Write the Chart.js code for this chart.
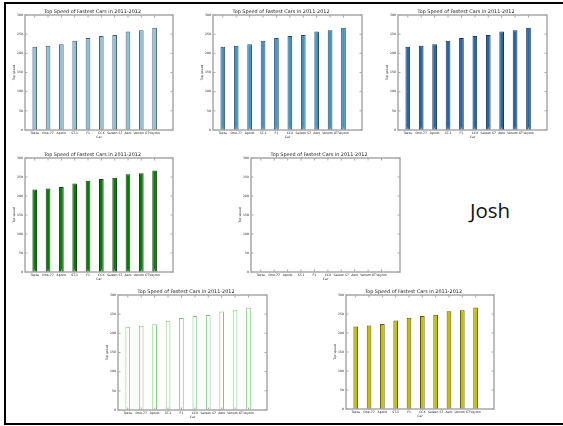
<!DOCTYPE html>
<html>
<head>
<meta charset="utf-8">
<script src="https://cdn.jsdelivr.net/npm/chart.js@4"></script>
<style>
  html, body { margin: 0; padding: 0; background: #fff; }
  body { width: 563px; height: 426px; position: relative; overflow: hidden; }
  canvas { position: absolute; }
  .rule { position: absolute; background: #000; }
  #name { position: absolute; left: 440px; top: 190px; width: 100px; text-align: center;
          font-family: "Open Sans", sans-serif; font-size: 20.5px; color: #111; line-height: 40px; }
</style>
</head>
<body>
<div class="rule" style="left:4px; top:1.5px; width:559px; height:2px;"></div>
<div class="rule" style="left:4px; top:1.5px; width:2px; height:423.5px;"></div>
<div class="rule" style="left:4px; top:423px; width:559px; height:2px;"></div>
<div id="name">Josh</div>
<script>
// Top speeds (mph) of the fastest production cars, 2011-2012
const cars = ["Tezza", "One-77", "Apollo", "ST-1", "F1", "CCX", "Saleen S7", "Aero", "Venom GT", "Veyron"];
const speeds = [217, 220, 224, 233, 240, 245, 248, 257, 260, 267];
const yTicks = [0, 50, 100, 150, 200, 250, 300];
const chartTitle = "Top Speed of Fastest Cars in 2011-2012";
const xTitle = "Car";
const yTitle = "Top speed";

const BAR_W = 0.35;   // bar width in x units, bars start at their index
const FRAME = "#a8a8a8";
const TEXT = "#222";
const TICK_FONT = { family: "DejaVu Sans", size: 3.1 };

// plot rectangles [left, top, right, bottom] and bar styles for each panel
const panels = [
  { rect: [25, 15, 173, 130],  fill: "#8ec1db", edge: "#4f5f6a" },
  { rect: [213, 15, 362, 130], fill: "#4292c6", edge: "#2c4f68" },
  { rect: [398, 15, 547, 130], fill: "#2565aa", edge: "#1d3554" },
  { rect: [25, 158, 173, 272], fill: "#008000", edge: "#1d3a1d" },
  { rect: [251, 158, 400, 272], fill: "#ffffff", edge: "#ffffff" },
  { rect: [118, 295, 267, 410], fill: "#ffffff", edge: "#7ccc7c" },
  { rect: [346, 295, 494, 409], fill: "#c4c000", edge: "#5a5a10" }
];

// margins around each plot rectangle; equal left/right keeps the title centred over the plot
const ML = 13, MT = 9, MR = 13, MB = 9.5;

// spines plus short inward tick marks on all four sides
const framePlugin = {
  id: "frame",
  afterDatasetsDraw(chart) {
    const { ctx, chartArea: a, scales } = chart;
    ctx.save();
    ctx.strokeStyle = FRAME;
    ctx.lineWidth = 1.5;
    ctx.strokeRect(a.left, a.top, a.right - a.left, a.bottom - a.top);
    ctx.lineWidth = 1;
    ctx.beginPath();
    yTicks.forEach(v => {
      const y = scales.y.getPixelForValue(v);
      ctx.moveTo(a.left, y); ctx.lineTo(a.left + 2.5, y);
      ctx.moveTo(a.right, y); ctx.lineTo(a.right - 2.5, y);
    });
    cars.forEach((c, i) => {
      const x = scales.x.getPixelForValue(i + BAR_W / 2);
      ctx.moveTo(x, a.bottom); ctx.lineTo(x, a.bottom - 2.5);
      ctx.moveTo(x, a.top); ctx.lineTo(x, a.top + 2.5);
    });
    ctx.stroke();
    ctx.restore();
  }
};

panels.forEach(p => {
  const [L, T, R, B] = p.rect;
  const cv = document.createElement("canvas");
  const w = R - L + ML + MR, h = Math.ceil(B - T + MT + MB);
  cv.width = w; cv.height = h;
  cv.style.left = (L - ML) + "px";
  cv.style.top = (T - MT) + "px";
  cv.style.width = w + "px";
  cv.style.height = h + "px";
  document.body.appendChild(cv);

  new Chart(cv, {
    type: "bar",
    data: {
      datasets: [{
        data: speeds.map((v, i) => ({ x: i + BAR_W / 2, y: v })),
        backgroundColor: p.fill,
        borderColor: p.edge,
        borderWidth: 1,
        categoryPercentage: 1,
        barPercentage: BAR_W
      }]
    },
    options: {
      responsive: false,
      animation: false,
      devicePixelRatio: 1,
      layout: { padding: { left: 0, right: MR, top: 0, bottom: h - (B - T + MT + MB) } },
      plugins: {
        legend: { display: false },
        tooltip: { enabled: false },
        title: {
          display: true,
          text: chartTitle,
          color: TEXT,
          font: { family: "DejaVu Sans", size: 4.9, weight: "normal", lineHeight: 1 },
          padding: { top: MT - 5.3, bottom: 0.4 }
        }
      },
      scales: {
        x: {
          type: "linear",
          min: 0,
          max: cars.length,
          afterBuildTicks: s => { s.ticks = cars.map((c, i) => ({ value: i + BAR_W / 2 })); },
          afterFit: s => { s.height = MB; },
          grid: { display: false, drawTicks: false },
          border: { display: false },
          ticks: {
            autoSkip: false, maxRotation: 0, padding: 1,
            color: TEXT, font: TICK_FONT,
            callback: (v, i) => cars[i]
          },
          title: { display: true, text: xTitle, color: TEXT, padding: 0, font: TICK_FONT }
        },
        y: {
          min: 0, max: 300,
          afterBuildTicks: s => { s.ticks = yTicks.map(v => ({ value: v })); },
          afterFit: s => { s.width = ML; },
          grid: { display: false, drawTicks: false },
          border: { display: false },
          ticks: { padding: 2, color: TEXT, font: TICK_FONT },
          title: { display: true, text: yTitle, color: TEXT, padding: 0, font: TICK_FONT }
        }
      }
    },
    plugins: [framePlugin]
  });
});
</script>
</body>
</html>
